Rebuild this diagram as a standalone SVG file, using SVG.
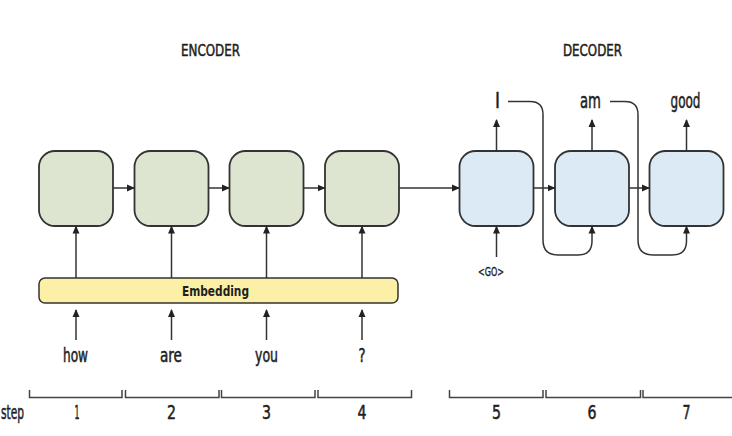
<svg xmlns="http://www.w3.org/2000/svg" width="732" height="436" viewBox="0 0 732 436">
<defs>
<marker id="ah" viewBox="0 0 8 8" refX="7" refY="4" markerWidth="8" markerHeight="8" markerUnits="userSpaceOnUse" orient="auto">
<path d="M0,0.5 L8,4 L0,7.5 Z" fill="#222"/>
</marker>
<style>
.enc{fill:#dde5d1;stroke:#333;stroke-width:1.8}
.dec{fill:#dbeaf4;stroke:#333;stroke-width:1.8}
.ln{fill:none;stroke:#444;stroke-width:1.5}
.ar{fill:none;stroke:#333;stroke-width:1.5;marker-end:url(#ah)}
text{font-family:"DejaVu Sans Condensed","DejaVu Sans","Liberation Sans",sans-serif;fill:#1e1e1e;stroke:#1e1e1e;stroke-width:0.5;text-anchor:middle}
.t{font-size:19px}
.d{font-size:21px}
.h{font-size:16.5px}
</style>
</defs>
<rect width="732" height="436" fill="#fff"/>
<text class="h" x="210.5" y="56" textLength="59" lengthAdjust="spacingAndGlyphs">ENCODER</text>
<text class="h" x="592.5" y="56" textLength="59" lengthAdjust="spacingAndGlyphs">DECODER</text>

<g id="embedding">
<rect x="39" y="278" width="359" height="25" rx="6" fill="#fbf0a6" stroke="#333" stroke-width="1.5"/>
<text x="215.5" y="295.5" font-size="13.5" font-weight="bold" style="stroke-width:0" textLength="67" lengthAdjust="spacingAndGlyphs">Embedding</text>
</g>
<g id="enc1"><rect class="enc" x="39" y="151" width="74" height="75" rx="16"/></g>
<g id="enc2"><rect class="enc" x="134.5" y="151" width="74" height="75" rx="16"/></g>
<g id="enc3"><rect class="enc" x="229.5" y="151" width="74" height="75" rx="16"/></g>
<g id="enc4"><rect class="enc" x="325" y="151" width="74" height="75" rx="16"/></g>
<g id="dec5"><rect class="dec" x="459.5" y="151" width="74" height="75" rx="16"/></g>
<g id="dec6"><rect class="dec" x="555" y="151" width="74" height="75" rx="16"/></g>
<g id="dec7"><rect class="dec" x="649.5" y="151" width="74" height="75" rx="16"/></g>

<g id="connectors">
<line class="ar" x1="113" y1="188" x2="134" y2="188"/>
<line class="ar" x1="208.5" y1="188" x2="229" y2="188"/>
<line class="ar" x1="303.5" y1="188" x2="324.5" y2="188"/>
<line class="ar" x1="399" y1="188" x2="459" y2="188"/>
<line class="ar" x1="533.5" y1="188" x2="554.5" y2="188"/>
<line class="ar" x1="629" y1="188" x2="649" y2="188"/>
<line class="ar" x1="76" y1="278" x2="76" y2="226.5"/>
<line class="ar" x1="171.5" y1="278" x2="171.5" y2="226.5"/>
<line class="ar" x1="266.5" y1="278" x2="266.5" y2="226.5"/>
<line class="ar" x1="362" y1="278" x2="362" y2="226.5"/>
<line class="ar" x1="76" y1="340" x2="76" y2="310"/>
<line class="ar" x1="171.5" y1="340" x2="171.5" y2="310"/>
<line class="ar" x1="266.5" y1="340" x2="266.5" y2="310"/>
<line class="ar" x1="362" y1="340" x2="362" y2="310"/>
<line class="ar" x1="496.5" y1="151" x2="496.5" y2="120"/>
<line class="ar" x1="592" y1="151" x2="592" y2="120"/>
<line class="ar" x1="686.5" y1="151" x2="686.5" y2="120"/>
<line class="ar" x1="496.5" y1="257" x2="496.5" y2="226.5"/>
<path class="ar" d="M508,101.5 H530 Q543,101.5 543,114.5 V240 Q543,255 558,255 H578 Q592,255 592,241 V226.5"/>
<path class="ar" d="M610,101.5 H625 Q638,101.5 638,114.5 V240 Q638,255 653,255 H672 Q686.5,255 686.5,241 V226.5"/>
</g>

<g id="words">
<text class="d" x="497.5" y="108" textLength="5" lengthAdjust="spacingAndGlyphs">I</text>
<text class="d" x="590.5" y="108" textLength="21" lengthAdjust="spacingAndGlyphs">am</text>
<text class="d" x="685.5" y="108" textLength="30" lengthAdjust="spacingAndGlyphs">good</text>
<text x="491" y="276" font-size="12" style="stroke-width:0.35" textLength="26" lengthAdjust="spacingAndGlyphs">&lt;GO&gt;</text>
<text class="t" x="75.5" y="362" textLength="25" lengthAdjust="spacingAndGlyphs">how</text>
<text class="t" x="171" y="362" textLength="22" lengthAdjust="spacingAndGlyphs">are</text>
<text class="t" x="266.5" y="362" textLength="23" lengthAdjust="spacingAndGlyphs">you</text>
<text class="t" x="362" y="362" textLength="7" lengthAdjust="spacingAndGlyphs">?</text>
</g>

<g id="steps">
<path class="ln" d="M29.5,390 V397.5 H122 V390"/>
<path class="ln" d="M125.5,390 V397.5 H219 V390"/>
<path class="ln" d="M221.5,390 V397.5 H315 V390"/>
<path class="ln" d="M318,390 V397.5 H411.5 V390"/>
<path class="ln" d="M449.5,390 V397.5 H543 V390"/>
<path class="ln" d="M546,390 V397.5 H640.5 V390"/>
<path class="ln" d="M643,390 V397.5 H734"/>
<text class="t" x="12.5" y="419" textLength="23" lengthAdjust="spacingAndGlyphs">step</text>
<text class="t" x="77" y="419" textLength="5" lengthAdjust="spacingAndGlyphs">1</text>
<text class="t" x="171.5" y="419" textLength="9" lengthAdjust="spacingAndGlyphs">2</text>
<text class="t" x="266.5" y="419" textLength="9" lengthAdjust="spacingAndGlyphs">3</text>
<text class="t" x="362" y="419" textLength="9" lengthAdjust="spacingAndGlyphs">4</text>
<text class="t" x="496.5" y="419" textLength="9" lengthAdjust="spacingAndGlyphs">5</text>
<text class="t" x="592" y="419" textLength="9" lengthAdjust="spacingAndGlyphs">6</text>
<text class="t" x="686.5" y="419" textLength="8" lengthAdjust="spacingAndGlyphs">7</text>
</g>
</svg>
